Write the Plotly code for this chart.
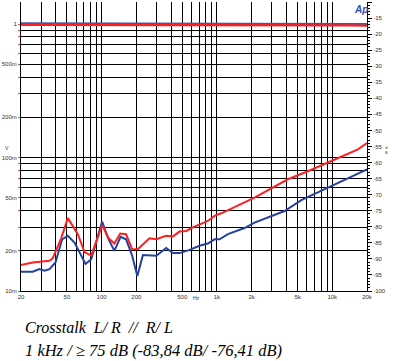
import math
import plotly.graph_objects as go

# ---- data ----
red_freq = [20, 25.3, 35.3, 37.5, 44.6, 50.9, 62.2, 71.1, 81.3, 101, 115, 129, 145, 163, 184, 206,
            260, 298, 363, 415, 474, 542, 618, 706, 834, 953, 1090, 2118, 4122, 6146, 10472, 16680, 20000]
red_db = [-91.9, -91.1, -90.6, -89.9, -83.6, -77.3, -82.3, -87.9, -89.0, -79.5, -83.6, -85.2, -82.1, -82.3,
          -87.0, -87.0, -83.6, -83.9, -82.8, -83.0, -81.5, -81.3, -80.2, -79.4, -78.2, -76.6, -75.8,
          -70.9, -65.2, -62.7, -59.0, -55.9, -53.9]

blue_freq = [20, 25.3, 28.9, 32.0, 35.3, 39.8, 45.5, 50.9, 58.2, 72.5, 81.3, 101, 113, 129, 146, 163, 184,
             204, 228, 298, 363, 415, 474, 579, 706, 834, 953, 1054, 1244, 1736, 2118, 3858, 5384, 10472, 20000]
blue_db = [-94.0, -94.0, -93.2, -93.7, -93.2, -91.1, -83.9, -82.8, -84.9, -91.6, -90.1, -78.4, -83.3, -87.5,
           -83.1, -83.9, -89.0, -95.3, -88.8, -89.0, -86.6, -88.2, -88.2, -87.2, -85.9, -85.2, -83.9, -83.9,
           -82.3, -80.4, -78.7, -75.1, -71.7, -66.8, -62.1]

level_freq = [20, 1000, 8000, 14000, 20000]
level_red_v = [0.985, 0.985, 0.985, 0.975, 0.972]
level_blue_v = [1.012, 1.012, 1.012, 1.005, 1.0]

x_tickvals = [20, 30, 40, 50, 60, 70, 80, 90, 100, 200, 300, 400, 500, 600, 700, 800, 900,
              1000, 2000, 3000, 4000, 5000, 6000, 7000, 8000, 9000, 10000, 20000]
x_labels = {20: "20", 50: "50", 100: "100", 200: "200", 500: "500", 1000: "1k",
            2000: "2k", 5000: "5k", 10000: "10k", 20000: "20k"}
v_tickvals = [0.01, 0.02, 0.03, 0.04, 0.05, 0.06, 0.07, 0.08, 0.09,
              0.1, 0.2, 0.3, 0.4, 0.5, 0.6, 0.7, 0.8, 0.9, 1.0]
v_labels = {0.01: "10m", 0.02: "20m", 0.05: "50m", 0.1: "100m", 0.2: "200m", 0.5: "500m", 1.0: "1"}
db_tickvals = list(range(-100, -9, 5))

RED = "#ff1f1f"
BLUE = "#2341a0"

fig = go.Figure()
fig.add_trace(go.Scatter(x=level_freq, y=level_blue_v, mode="lines",
                         line=dict(color="#3a5cb0", width=2.2), yaxis="y", showlegend=False))
fig.add_trace(go.Scatter(x=level_freq, y=level_red_v, mode="lines",
                         line=dict(color=RED, width=2.2), yaxis="y", showlegend=False))
fig.add_trace(go.Scatter(x=blue_freq, y=blue_db, mode="lines",
                         line=dict(color=BLUE, width=2), yaxis="y2", showlegend=False))
fig.add_trace(go.Scatter(x=red_freq, y=red_db, mode="lines",
                         line=dict(color=RED, width=2), yaxis="y2", showlegend=False))

L, R, T, B = 21, 28, 2, 70
W, H = 395, 361
PW, PH = W - L - R, H - T - B


def px(x):
    return (x - L) / PW


def py(y):
    return (H - B - y) / PH


tickfont = dict(family="Liberation Sans, Arial", size=6, color="#333333")

fig.update_layout(
    width=W, height=H,
    margin=dict(l=L, r=R, t=T, b=B, pad=0),
    paper_bgcolor="white", plot_bgcolor="white",
    xaxis=dict(type="log", range=[math.log10(20), math.log10(20000)],
               tickvals=x_tickvals, ticktext=[x_labels.get(v, "") for v in x_tickvals],
               tickfont=tickfont, showgrid=True, gridcolor="black", gridwidth=1,
               showline=True, linecolor="black", linewidth=1, ticks="", zeroline=False),
    yaxis=dict(type="log", range=[-2, 0.1648],
               tickvals=v_tickvals, ticktext=[v_labels.get(v, "") for v in v_tickvals],
               tickfont=tickfont, showgrid=True, gridcolor="black", gridwidth=1,
               showline=True, linecolor="black", linewidth=1,
               ticks="outside", ticklen=2, tickcolor="#d05050", zeroline=False),
    yaxis2=dict(overlaying="y", side="right", range=[-100, -10],
                tickvals=db_tickvals, ticktext=[str(v) for v in db_tickvals],
                tickfont=tickfont, showgrid=False, zeroline=False,
                showline=True, linecolor="black", linewidth=1,
                ticks="outside", ticklen=4, tickcolor="black",
                minor=dict(dtick=1, ticks="outside", ticklen=2, tickcolor="black", showgrid=False)),
)

# thick reference lines (40 Hz and 20 mV)
fig.add_shape(type="line", xref="x", yref="paper", x0=math.log10(40), x1=math.log10(40), y0=0, y1=1,
              line=dict(color="black", width=3), layer="below")
fig.add_shape(type="line", xref="paper", yref="y", x0=0, x1=1, y0=math.log10(0.02), y1=math.log10(0.02),
              line=dict(color="black", width=3), layer="below")

ann = []
ann.append(dict(text="<b><i>Ap</i></b>", x=px(361), y=py(9), xref="paper", yref="paper",
                xanchor="center", yanchor="middle",
                showarrow=False, font=dict(family="Liberation Sans, Arial", size=10, color="#2a4db0")))
ann.append(dict(text="Hz", x=px(196), y=py(303), xref="paper", yref="paper",
                showarrow=False, font=dict(family="Liberation Sans, Arial", size=5, color="#333")))
ann.append(dict(text="V", x=px(3), y=py(148), xref="paper", yref="paper",
                showarrow=False, font=dict(family="Liberation Sans, Arial", size=5, color="#333")))
ann.append(dict(text="d<br>B", x=px(390), y=py(150), xref="paper", yref="paper",
                showarrow=False, font=dict(family="Liberation Sans, Arial", size=4, color="#333")))
cap_font = dict(family="Liberation Serif, Times New Roman, serif", size=16, color="black")
ann.append(dict(text="<i>Crosstalk\u00a0\u00a0L/ R\u00a0\u00a0//\u00a0\u00a0R/ L</i>",
                x=px(23), y=py(327), xref="paper", yref="paper", xanchor="left", yanchor="middle",
                showarrow=False, font=cap_font))
ann.append(dict(text="<i>1 kHz / \u2265 75 dB (-83,84 dB/ -76,41 dB)</i>",
                x=px(23), y=py(350), xref="paper", yref="paper", xanchor="left", yanchor="middle",
                showarrow=False, font=dict(family="Liberation Serif, Times New Roman, serif", size=16.5,
                                           color="black")))
fig.update_layout(annotations=ann)

fig.write_html("out.html", config={"displayModeBar": False},
               post_script="document.body.style.margin='0';document.body.style.overflow='hidden';")
